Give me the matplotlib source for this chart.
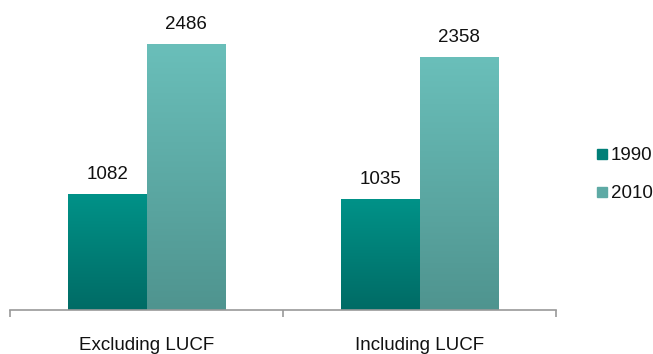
import matplotlib
matplotlib.use("Agg")
import matplotlib.pyplot as plt
import numpy as np
from matplotlib.colors import LinearSegmentedColormap
from matplotlib.patches import Rectangle

categories = ["Excluding LUCF", "Including LUCF"]
series_names = ["1990", "2010"]
values_1990 = [1082, 1035]
values_2010 = [2486, 2358]

# top colour, bottom colour for each series
GRADIENTS = [("#009288", "#006b65"), ("#6abfba", "#4f948f")]
LEGEND_COLORS = ["#007f78", "#5eaaa5"]
FS = 13.5

plt.rcParams["font.family"] = ["Liberation Sans", "DejaVu Sans"]

W, H = 653, 354
fig = plt.figure(figsize=(W / 100, H / 100), dpi=100)
ax = fig.add_axes([10 / W, (H - 310) / H, 546 / W, 300 / H])

x = np.arange(len(categories))
width = 0.286
ymax = 2800
px = ymax / 300  # data units per pixel

for idx, (vals, (top, bottom)) in enumerate(zip([values_1990, values_2010], GRADIENTS)):
    cmap = LinearSegmentedColormap.from_list(f"g{idx}", [bottom, top])
    offset = (idx - 0.5) * width
    bars = ax.bar(x + offset, vals, width=width, color=top, linewidth=0)
    for bar, v in zip(bars, vals):
        x0 = bar.get_x()
        x1 = x0 + bar.get_width()
        grad = np.linspace(0, 1, 256).reshape(-1, 1)
        im = ax.imshow(grad, cmap=cmap, origin="lower", aspect="auto",
                       extent=[x0, x1, 0, v], zorder=2)
        im.set_clip_path(bar)
        bar.set_facecolor("none")
        ax.text(x0 + bar.get_width() / 2, v + 15 * px, f"{v}",
                ha="center", va="baseline", fontsize=FS, color="#111111")

ax.set_xlim(-0.5, len(categories) - 0.5)
ax.set_ylim(0, ymax)

for side in ["top", "right", "left"]:
    ax.spines[side].set_visible(False)
ax.spines["bottom"].set_color("#999999")
ax.spines["bottom"].set_linewidth(1.2)
ax.set_yticks([])
ax.set_xticks([-0.5, 0.5, 1.5])
ax.set_xticklabels([])
ax.tick_params(axis="x", length=5, color="#999999", width=1.2)
for i, cat in enumerate(categories):
    ax.text(i, -40 * px, cat, ha="center", va="baseline", fontsize=FS, color="#111111")

# legend drawn by hand for exact placement
for i, (name, c) in enumerate(zip(series_names, LEGEND_COLORS)):
    yc = 154 + i * 38
    fig.patches.append(Rectangle((597 / W, (H - yc - 5) / H), 10 / W, 10 / H,
                                 transform=fig.transFigure, color=c))
    fig.text(611 / W, (H - yc) / H, name, ha="left", va="center_baseline",
             fontsize=FS, color="#111111")

fig.savefig("out.png", dpi=100, facecolor="white")
